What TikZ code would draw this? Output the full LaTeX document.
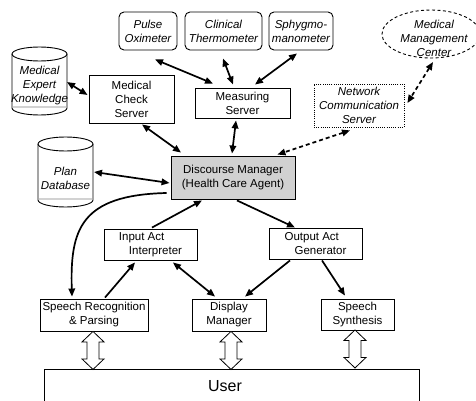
\documentclass[tikz,border=0pt]{standalone}
\usepackage{fontspec}
\setmainfont{Liberation Sans}
\usetikzlibrary{arrows.meta,calc}
\newcommand\mycyl[5]{% cx, top, bottom, rx, ry
  \draw[line width=0.9pt] (#1,{#2-#5}) ellipse ({#4} and {#5});
  \draw[gray!35, line width=1.6pt] ({#1-#4+1},{#3+#5+1}) -- ({#1+#4-1},{#3+#5+1});
  \draw[line width=0.9pt] ({#1-#4},{#2-#5}) -- ({#1-#4},{#3+#5}) arc (180:360:{#4} and {#5}) -- ({#1+#4},{#2-#5});
}
\newcommand\hollowarrow[1]{%
  \draw[line width=0.8pt, fill=white] (#1) -- ++(11,-10.5) -- ++(-5,0) -- ++(0,-17) -- ++(5,0) -- ++(-11,-10.5) -- ++(-11,10.5) -- ++(5,0) -- ++(0,17) -- ++(-5,0) -- cycle;}
\begin{document}
\begin{tikzpicture}[x=1pt,y=1pt,
  every node/.style={font=\fontsize{11.5}{14}\selectfont, inner sep=1pt, align=center},
  box/.style={draw, line width=0.9pt, rectangle},
  rbox/.style={box, rounded corners=5pt, font=\fontsize{11.5}{14}\selectfont\itshape},
  itext/.style={font=\fontsize{11.5}{14}\selectfont\itshape},
  conn/.style={line width=1.7pt, -{Triangle[length=8pt,width=6.5pt]}},
  biconn/.style={line width=1.7pt, {Triangle[length=8pt,width=6.5pt]}-{Triangle[length=8pt,width=6.5pt]}},
  dconn/.style={biconn, dash pattern=on 4pt off 3pt},
]
\useasboundingbox (0,0) rectangle (476,-401);

% sensors
\node[rbox, minimum width=58, minimum height=38] (po) at (148,-31) {Pulse\\Oximeter};
\node[rbox, minimum width=77, minimum height=38] (ct) at (223.5,-31) {Clinical\\Thermometer};
\node[rbox, minimum width=64, minimum height=38] (sp) at (301,-31) {Sphygmo-\\manometer};

% cylinders
\mycyl{39.5}{-47}{-115}{27.5}{7}
\node[itext] (mek) at (39.5,-86) {Medical\\Expert\\Knowledge};
\coordinate (mekE) at (67,-82);
\mycyl{65.5}{-137}{-207}{27.5}{7}
\node[itext] (pd) at (65.5,-178) {Plan\\Database};
\coordinate (pdE) at (94,-172);

% servers
\node[box, minimum width=85, minimum height=48] (mcs) at (131.5,-99) {Medical\\Check\\Server};
\node[box, minimum width=95, minimum height=30] (ms) at (242.5,-103) {Measuring\\Server};
\node[draw, line width=0.8pt, dash pattern=on 1pt off 1.2pt, minimum width=90, minimum height=43, itext] (ncs) at (359,-105.5) {Network\\Communication\\Server};

% management center
\draw[line width=0.9pt, dash pattern=on 3pt off 2.5pt] (431,-34) ellipse (49 and 24);
\node[itext] (mmc) at (434,-38) {Medical\\Management\\Center};

% discourse manager
\node[box, fill=black!18, minimum width=124, minimum height=43] (dm) at (233,-177.5) {Discourse Manager\\(Health Care Agent)};

% act modules
\node[box, minimum width=93, minimum height=31, align=left] (iai) at (150.5,-244.5) {Input Act\\\hspace*{10pt}Interpreter};
\node[box, minimum width=93, minimum height=31, align=left] (oag) at (315.5,-243.5) {Output Act\\\hspace*{10pt}Generator};

% bottom modules
\node[box, minimum width=108, minimum height=32] (srp) at (94,-315) {Speech Recognition\\\& Parsing};
\node[box, minimum width=74, minimum height=32] (dmg) at (229,-315) {Display\\Manager};
\node[box, minimum width=73, minimum height=31] (ss) at (357.5,-314.5) {Speech\\Synthesis};

% user
\node[box, anchor=north west, minimum width=375, minimum height=50] (user) at (44,-369) {};
\node[font=\fontsize{16}{19}\selectfont] (usertext) at (225,-386) {User};

% connectors
\draw[biconn] ($(po.south)+(7,-9)$) -- ($(ms.north)+(-29.5,4)$);
\draw[biconn] ($(ct.south)+(-0.5,-8)$) -- ($(ms.north)+(-9.5,3)$);
\draw[biconn] ($(sp.south)+(-4,-3)$) -- ($(ms.north)+(12.5,3)$);
\draw[biconn] (mekE) -- ($(mcs.west)+(-1,4)$);
\draw[biconn] ($(mcs.south)+(10.5,-1)$) -- ($(dm.north)+(-52,3)$);
\draw[biconn] ($(ms.south)+(-6.5,-2)$) -- ($(dm.north)+(-1,2)$);
\draw[biconn] (pdE) -- ($(dm.west)+(-1,-5.5)$);
\draw[dconn] ($(ncs.south)+(-9,-3)$) -- ($(dm.north east)+(-18,1)$);
\draw[dconn] ($(mmc.center)+(-1,-24)$) -- ($(ncs.east)+(3,2.5)$);
\draw[conn] ($(dm.west)+(-4,-15.5)$) .. controls (80,-195) and (70,-230) .. ($(srp.north)+(-22,2)$);
\draw[conn] ($(iai.north)+(1.5,1)$) -- ($(dm.south)+(-31,-1)$);
\draw[conn] ($(dm.south)+(4,-1)$) -- ($(oag.north)+(-20.5,0)$);
\draw[conn] ($(srp.north)+(11,1)$) -- ($(iai.south)+(-15.5,-2)$);
\draw[biconn] ($(iai.south)+(22.5,-2)$) -- ($(dmg.north)+(-14,2)$);
\draw[conn] ($(oag.south)+(-25.5,-1)$) -- ($(dmg.north)+(16,2)$);
\draw[conn] ($(oag.south)+(6.5,-1)$) -- ($(ss.north)+(-12.5,3)$);

% hollow arrows
\hollowarrow{$(srp.south)+(-1,0)$}
\hollowarrow{$(dmg.south)+(2,0)$}
\hollowarrow{$(ss.south)+(-2.5,0.5)$}
\end{tikzpicture}
\end{document}
